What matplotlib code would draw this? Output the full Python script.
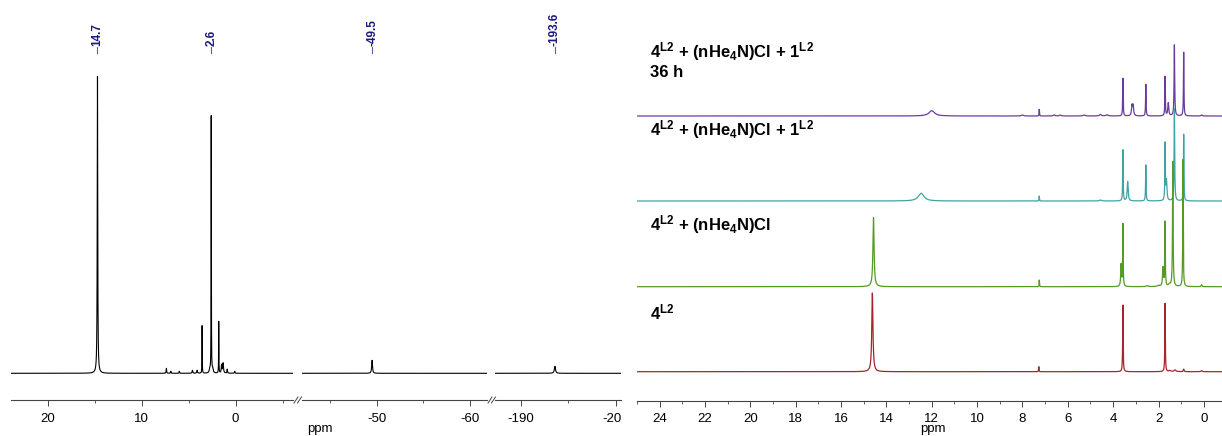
import numpy as np
import matplotlib
matplotlib.use("Agg")
import matplotlib.pyplot as plt
from matplotlib import transforms
from matplotlib.lines import Line2D

# ---------------- data ----------------
# Left spectrum: peak shifts (ppm), intensities (a.u.), half widths (ppm)
left_shifts  = [14.7, 7.37, 6.9, 6.0, 4.6, 4.1, 3.57, 2.75, 2.6, 2.45, 1.8, 1.5, 1.34, 0.9, 0.1, -49.5, -193.6]
left_heights = [297, 5, 2, 2, 3, 3, 47.6, 4, 256.6, 4, 51.6, 8, 10, 4, 2, 13, 7]
left_widths  = [0.03, 0.03, 0.03, 0.03, 0.04, 0.04, 0.015, 0.06, 0.015, 0.06, 0.015, 0.04, 0.05, 0.03, 0.03, 0.05, 0.07]
left_labels  = [14.7, 2.6, -49.5, -193.6]

# Right stacked spectra: (shifts, heights, widths)
s36h_shifts  = [12.0, 8.0, 7.26, 6.6, 6.33, 5.28, 4.56, 4.27, 3.57, 3.17, 3.12, 2.56, 1.71, 1.57, 1.30, 0.89, 0.1]
s36h_heights = [5.3, 1.0, 6.7, 1.2, 1.0, 1.0, 1.5, 1.2, 37.7, 10, 10, 31.7, 39.3, 13, 71, 63.7, 1.0]
s36h_widths  = [0.15, 0.05, 0.01, 0.04, 0.04, 0.05, 0.05, 0.05, 0.012, 0.025, 0.025, 0.012, 0.012, 0.025, 0.015, 0.012, 0.03]

s1_shifts  = [12.47, 7.26, 4.56, 3.57, 3.36, 2.56, 1.71, 1.65, 1.30, 0.89]
s1_heights = [7.7, 5.0, 1.0, 51, 19.3, 36, 56, 20, 92, 66.7]
s1_widths  = [0.15, 0.01, 0.05, 0.012, 0.025, 0.012, 0.012, 0.025, 0.015, 0.012]

s2_shifts  = [14.57, 7.26, 3.65, 3.57, 2.5, 2.0, 1.80, 1.71, 1.52, 1.37, 0.92, 0.1]
s2_heights = [69, 6.7, 22, 62, 1.0, 1.0, 19, 64, 2.0, 125, 127, 2.0]
s2_widths  = [0.03, 0.01, 0.02, 0.012, 0.05, 0.05, 0.025, 0.012, 0.04, 0.015, 0.012, 0.02]

s0_shifts  = [14.62, 7.28, 3.57, 1.71, 1.50, 1.27, 0.89, 0.1]
s0_heights = [78.7, 5.0, 66.7, 68.4, 1.0, 1.7, 2.5, 1.0]
s0_widths  = [0.03, 0.01, 0.012, 0.012, 0.05, 0.05, 0.02, 0.03]

stack_labels = [r"4$^{\mathbf{L2}}$ + (nHe$_{\mathbf{4}}$N)Cl + 1$^{\mathbf{L2}}$",
                r"4$^{\mathbf{L2}}$ + (nHe$_{\mathbf{4}}$N)Cl + 1$^{\mathbf{L2}}$",
                r"4$^{\mathbf{L2}}$ + (nHe$_{\mathbf{4}}$N)Cl",
                r"4$^{\mathbf{L2}}$"]
time_label = "36 h"

# ---------------- style ----------------
W, H = 1222, 436
plt.rcParams["font.family"] = ["Liberation Sans", "DejaVu Sans"]
plt.rcParams["mathtext.fontset"] = "custom"
plt.rcParams["mathtext.rm"] = "Liberation Sans"
plt.rcParams["mathtext.bf"] = "Liberation Sans:bold"
plt.rcParams["mathtext.default"] = "bf"

fig = plt.figure(figsize=(W / 100, H / 100), dpi=100)
fig.patch.set_facecolor("white")


def px_axes(x0, x1, y0, y1):
    return fig.add_axes([x0 / W, 1 - y1 / H, (x1 - x0) / W, (y1 - y0) / H])


def lorentz_sum(x, shifts, heights, widths):
    y = np.zeros_like(x)
    for p, h, w in zip(shifts, heights, widths):
        y += h / (1.0 + ((x - p) / w) ** 2)
    return y


AXIS_COLOR = "#444444"
TICK_FS = 9.5


def style_axis(ax, major, minor):
    for s in ("left", "right", "top"):
        ax.spines[s].set_visible(False)
    ax.spines["bottom"].set_color(AXIS_COLOR)
    ax.spines["bottom"].set_linewidth(0.8)
    ax.set_yticks([])
    ax.set_xticks(major)
    ax.set_xticks(minor, minor=True)
    ax.set_xticklabels([f"{m:g}" for m in major])
    ax.tick_params(axis="x", which="major", direction="out", length=4, width=0.7,
                   color=AXIS_COLOR, labelsize=TICK_FS, pad=5)
    ax.tick_params(axis="x", which="minor", direction="out", length=2.5, width=0.6,
                   color=AXIS_COLOR)
    ax.patch.set_alpha(0)


# ---------------- left panel: broken ppm axis ----------------
AXIS_Y = 400
BASE_Y = 373.3
segments = [
    # (x0 px, x1 px, ppm left, ppm right, major, minor)
    (11, 293, 23.9, -6.1, [20, 10, 0], [15, 5, -5]),
    (302, 487, -42.0, -61.8, [-50, -60], [-45, -55]),
    (495, 621, -187.3, -200.55, [-190, -200], [-195]),
]
left_axes = []
for x0, x1, pl, pr, major, minor in segments:
    ax = px_axes(x0, x1, 0, AXIS_Y)
    xs = np.linspace(pl, pr, 30000)
    ys = lorentz_sum(xs, left_shifts, left_heights, left_widths)
    ax.plot(xs, ys, color="black", lw=0.8)
    ax.set_xlim(pl, pr)
    ax.set_ylim(-(AXIS_Y - BASE_Y), BASE_Y)
    style_axis(ax, major, minor)
    left_axes.append(ax)

# clip the last tick label at the panel edge
clipbox = transforms.TransformedBbox(transforms.Bbox([[0, 0], [621 / W, 1]]), fig.transFigure)
for lab in left_axes[2].get_xticklabels():
    lab.set_clip_box(clipbox)
    lab.set_clip_on(True)

# axis break marks
for bx in (294, 297.5, 488, 491.5):
    fig.add_artist(Line2D([bx / W, (bx + 4) / W], [1 - 403 / H, 1 - 397 / H],
                          color=AXIS_COLOR, lw=0.7))

# peak labels above the left spectrum
LABEL_COLOR = "#1a1a80"
for val in left_labels:
    ax = next(a for a, s in zip(left_axes, segments) if s[3] <= val <= s[2])
    tr = transforms.blended_transform_factory(ax.transData, fig.transFigure)
    fig.text(val, 1 - 45.5 / H, f"{val:g}", transform=tr, rotation=90,
             ha="center", va="bottom", fontsize=8.5, fontweight="bold", color=LABEL_COLOR)
    fig.add_artist(Line2D([val, val], [1 - 47 / H, 1 - 53 / H], transform=tr,
                          color=LABEL_COLOR, lw=0.8, alpha=0.7))

fig.text(320 / W, 1 - 429 / H, "ppm", ha="center", va="center", fontsize=TICK_FS)

# ---------------- right panel: stacked spectra ----------------
R_AXIS_Y = 400.7
axr = px_axes(637, 1222, 0, R_AXIS_Y)
xr = np.linspace(24.97, -0.8, 40000)
stack = [
    (s36h_shifts, s36h_heights, s36h_widths, "#6a3a9f", 116.0),
    (s1_shifts, s1_heights, s1_widths, "#3ea3a3", 201.0),
    (s2_shifts, s2_heights, s2_widths, "#559a22", 286.7),
    (s0_shifts, s0_heights, s0_widths, "#a3262c", 371.7),
]
for shifts, heights, widths, col, base_px in stack:
    yr = lorentz_sum(xr, shifts, heights, widths) + (R_AXIS_Y - base_px)
    axr.plot(xr, yr, color=col, lw=0.9)
axr.set_xlim(24.97, -0.8)
axr.set_ylim(0, R_AXIS_Y)
style_axis(axr, list(range(24, -1, -2)), list(range(25, -1, -1)))

LABEL_FS = 12
label_baselines = [57.7, 135.3, 230.0, 319.3]
for txt, yb in zip(stack_labels, label_baselines):
    fig.text(650 / W, 1 - yb / H, txt, ha="left", va="baseline",
             fontsize=LABEL_FS, fontweight="bold")
fig.text(650 / W, 1 - 77.3 / H, time_label, ha="left", va="baseline",
         fontsize=LABEL_FS, fontweight="bold")

fig.text(933 / W, 1 - 429 / H, "ppm", ha="center", va="center", fontsize=TICK_FS)

fig.savefig("out.png", dpi=100, facecolor="white")
